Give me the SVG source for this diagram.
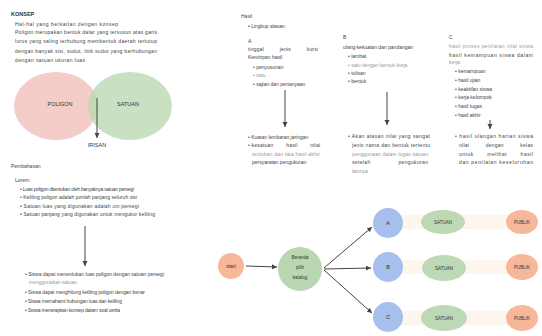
<svg xmlns="http://www.w3.org/2000/svg" width="542" height="336" viewBox="0 0 542 336">
<defs>
<style>
text{font-family:"Liberation Sans",Arial,sans-serif;font-size:5px;fill:#444;white-space:pre}
.t{font-weight:bold;font-size:5.5px;fill:#333}
.g{fill:#999}
.lbl{font-size:5.5px;fill:#333;text-anchor:middle}
.ln{stroke:#444;stroke-width:1;fill:none}
</style>
<marker id="ah" markerWidth="6" markerHeight="6" refX="5" refY="3" orient="auto" markerUnits="userSpaceOnUse"><path d="M0,0.5 L5,3 L0,5.5 Z" fill="#444"/></marker>
</defs>
<rect width="542" height="336" fill="#fff"/>

<g id="konsep">
<text class="t" x="11" y="16">KONSEP</text>
<text x="15" y="26" textLength="103" lengthAdjust="spacing">Hal-hal yang berkaitan dengan konsep</text>
<text x="15" y="34" textLength="142" lengthAdjust="spacing">Poligon merupakan bentuk datar yang tersusun atas garis</text>
<text x="15" y="43" textLength="142" lengthAdjust="spacing">lurus yang saling terhubung membentuk daerah tertutup</text>
<text x="15" y="53" textLength="142" lengthAdjust="spacing">dengan banyak sisi, sudut, titik sudut yang berhubungan</text>
<text x="15" y="62" textLength="70" lengthAdjust="spacing">dengan satuan ukuran luas</text>
</g>

<g id="venn">
<ellipse cx="56" cy="106" rx="42" ry="34" fill="#f2c4c0" opacity="0.85"/>
<ellipse cx="130" cy="106" rx="42" ry="34" fill="#bcd8b4" opacity="0.8"/>
<text class="lbl" x="60" y="106">POLIGON</text>
<text class="lbl" x="128" y="106">SATUAN</text>
<text class="lbl" x="97" y="147">IRISAN</text>
</g>

<g id="pembahasan">
<text x="11" y="168">Pembahasan</text>
<text x="15" y="182">Lorem:</text>
<text x="20" y="191" textLength="114" lengthAdjust="spacing">• Luas poligon ditentukan oleh banyaknya satuan persegi</text>
<text x="20" y="199" textLength="117" lengthAdjust="spacing">• Keliling poligon adalah jumlah panjang seluruh sisi</text>
<text x="20" y="208" textLength="119" lengthAdjust="spacing">• Satuan luas yang digunakan adalah cm persegi</text>
<text x="20" y="216" textLength="135" lengthAdjust="spacing">• Satuan panjang yang digunakan untuk mengukur keliling</text>
<text x="25" y="276" textLength="139" lengthAdjust="spacing">• Siswa dapat menentukan luas poligon dengan satuan persegi</text>
<text class="g" x="29" y="284">menggunakan satuan</text>
<text x="25" y="294" textLength="120" lengthAdjust="spacing">• Siswa dapat menghitung keliling poligon dengan benar</text>
<text x="25" y="303" textLength="97" lengthAdjust="spacing">• Siswa memahami hubungan luas dan keliling</text>
<text x="25" y="312" textLength="95" lengthAdjust="spacing">• Siswa menerapkan konsep dalam soal cerita</text>
</g>

<g id="hasil-a">
<text x="241" y="18">Hasil</text>
<text x="248" y="28">• Lingkup alasan</text>
<text x="248" y="43">A</text>
<text x="248" y="51" textLength="70" lengthAdjust="spacing">tinggal          jenis          kursi</text>
<text x="248" y="59">Kemiripan hasil</text>
<text x="253" y="69">• penyusunan</text>
<text class="g" x="253" y="77">• satu</text>
<text x="253" y="86">• sajian dan pertanyaan</text>
<text x="248" y="139">• Kuatan lembaran jaringan</text>
<text x="248" y="147" textLength="72" lengthAdjust="spacing">• kesatuan        hasil        nilai</text>
<text class="g" x="252" y="156" textLength="68" lengthAdjust="spacing">tentukan dan tata hasil akhir</text>
<text x="252" y="164">persyaratan pengukuran</text>
</g>

<g id="hasil-b">
<text x="343" y="39">B</text>
<text x="343" y="49">ulang kekuatan dan pandangan</text>
<text x="348" y="58">• lambat</text>
<text class="g" x="348" y="67">• satu dengan bentuk kerja</text>
<text x="348" y="75">• tulisan</text>
<text x="348" y="83">• bentuk</text>
<text x="348" y="138" textLength="82" lengthAdjust="spacing">• Akan alasan nilai yang sangat</text>
<text x="352" y="147" textLength="78" lengthAdjust="spacing">jenis nama dan bentuk tertentu</text>
<text class="g" x="352" y="156" textLength="76" lengthAdjust="spacing">penggunaan dalam tugas satuan</text>
<text x="352" y="164" textLength="76" lengthAdjust="spacing">setelah                pengukuran</text>
<text class="g" x="352" y="173">lainnya</text>
</g>

<g id="hasil-c">
<text x="449" y="39">C</text>
<text class="g" x="449" y="48" textLength="84" lengthAdjust="spacing">hasil proses penilaian nilai siswa</text>
<text x="449" y="57" textLength="84" lengthAdjust="spacing">hasil kemampuan siswa dalam</text>
<text class="g" x="449" y="64">kerja:</text>
<text x="455" y="73">• kemampuan</text>
<text x="455" y="82">• hasil ujian</text>
<text x="455" y="91">• keaktifan siswa</text>
<text x="455" y="99">• kerja kelompok</text>
<text x="455" y="108">• hasil tugas</text>
<text x="455" y="117">• hasil akhir</text>
<text x="455" y="138" textLength="78" lengthAdjust="spacing">• hasil ulangan harian siswa</text>
<text x="459" y="147" textLength="74" lengthAdjust="spacing">nilai          dengan          kelas</text>
<text x="459" y="156" textLength="74" lengthAdjust="spacing">untuk       melihat       hasil</text>
<text x="459" y="164" textLength="74" lengthAdjust="spacing">dan penilaian keseluruhan</text>
</g>

<g id="bands">
<line x1="395" y1="222" x2="520" y2="222" stroke="#fef6ee" stroke-width="14"/>
<line x1="395" y1="267" x2="520" y2="267" stroke="#fef6ee" stroke-width="14"/>
<line x1="395" y1="318" x2="520" y2="318" stroke="#fef6ee" stroke-width="14"/>
</g>

<g id="connectors">
<line class="ln" x1="97" y1="98" x2="97" y2="138" marker-end="url(#ah)"/>
<line class="ln" x1="85" y1="226" x2="85" y2="266" marker-end="url(#ah)"/>
<line class="ln" x1="285" y1="90" x2="285" y2="127" marker-end="url(#ah)"/>
<line class="ln" x1="387" y1="92" x2="387" y2="125" marker-end="url(#ah)"/>
<line class="ln" x1="490" y1="120" x2="490" y2="129" marker-end="url(#ah)"/>
<line class="ln" x1="246" y1="266" x2="277" y2="267" marker-end="url(#ah)"/>
<line class="ln" x1="324" y1="268" x2="372" y2="227" marker-end="url(#ah)"/>
<line class="ln" x1="324" y1="269" x2="371" y2="268" marker-end="url(#ah)"/>
<line class="ln" x1="324" y1="270" x2="372" y2="313" marker-end="url(#ah)"/>
</g>

<g id="start">
<circle cx="231" cy="266" r="13" fill="#f6b79a"/>
<text class="lbl" x="231" y="268" style="font-size:5px">start</text>
</g>
<g id="pilih">
<circle cx="300" cy="269" r="22" fill="#b9d7b0"/>
<text class="lbl" x="300" y="259" style="font-size:4.5px">Beranda</text>
<text class="lbl" x="300" y="269" style="font-size:4.5px">pilih</text>
<text class="lbl" x="300" y="279" style="font-size:4.5px">katalog</text>
</g>
<g id="A"><circle cx="388" cy="223" r="15" fill="#a6bfec"/><text class="lbl" x="388" y="225">A</text></g>
<g id="B"><circle cx="388" cy="267" r="15" fill="#a6bfec"/><text class="lbl" x="388" y="269">B</text></g>
<g id="C"><circle cx="388" cy="317" r="15" fill="#a6bfec"/><text class="lbl" x="388" y="319">C</text></g>
<g id="sA"><ellipse cx="443" cy="222" rx="22" ry="12" fill="#bcd8b4"/><text class="lbl" x="443" y="224" style="font-size:4.5px">SATUAN</text></g>
<g id="sB"><ellipse cx="444" cy="268" rx="22" ry="13" fill="#bcd8b4"/><text class="lbl" x="444" y="270" style="font-size:4.5px">SATUAN</text></g>
<g id="sC"><ellipse cx="444" cy="318" rx="23" ry="13" fill="#bcd8b4"/><text class="lbl" x="444" y="320" style="font-size:4.5px">SATUAN</text></g>
<g id="pA"><ellipse cx="522" cy="222" rx="16" ry="12" fill="#f6b79a"/><text class="lbl" x="522" y="224" style="font-size:4.5px">PUBLIK</text></g>
<g id="pB"><ellipse cx="522" cy="267" rx="16" ry="13" fill="#f6b79a"/><text class="lbl" x="522" y="269" style="font-size:4.5px">PUBLIK</text></g>
<g id="pC"><ellipse cx="522" cy="318" rx="16" ry="13" fill="#f6b79a"/><text class="lbl" x="522" y="320" style="font-size:4.5px">PUBLIK</text></g>
</svg>
